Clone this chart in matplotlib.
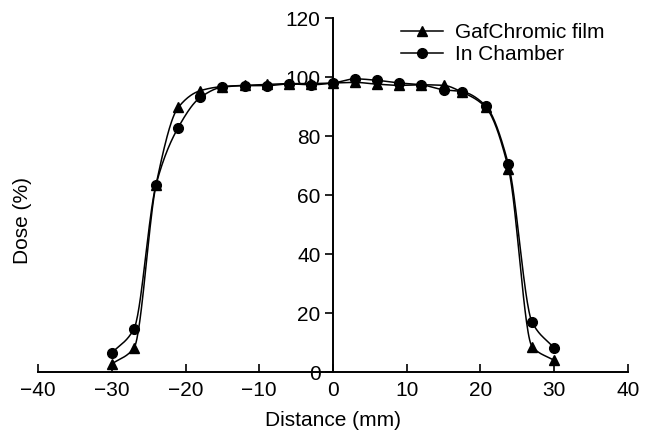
import numpy as np
import matplotlib
matplotlib.use("Agg")
import matplotlib.pyplot as plt
from matplotlib.lines import Line2D

plt.rcParams['font.family'] = ['Liberation Sans', 'DejaVu Sans']

# Data
distance = [-30, -27, -24, -21, -18, -15, -12, -9, -6, -3, 0, 3, 6, 9, 12, 15, 17.5, 20.7, 23.8, 27, 30]
film_dose = [2.8, 8.2, 63.6, 89.7, 95.4, 96.8, 97.2, 97.5, 97.8, 97.8, 98.0, 98.2, 97.6, 97.2, 97.4, 97.2, 94.9, 89.8, 69.0, 8.7, 4.0]
chamber_dose = [6.5, 14.7, 63.6, 82.9, 93.1, 96.6, 97.1, 97.1, 97.7, 97.4, 98.0, 99.4, 98.9, 98.0, 97.4, 95.7, 95.1, 90.3, 70.4, 17.0, 8.2]
series_labels = ["GafChromic film", "In Chamber"]
x_ticks = [-40, -30, -20, -10, 0, 10, 20, 30, 40]
y_ticks = [0, 20, 40, 60, 80, 100, 120]


def smooth(x, y, n=30):
    """Monotone cubic (Fritsch-Carlson) curve through the points - drawing style only."""
    x = np.asarray(x, float)
    y = np.asarray(y, float)
    h = np.diff(x)
    d = np.diff(y) / h
    m = np.zeros_like(y)
    m[0], m[-1] = d[0], d[-1]
    for i in range(1, len(x) - 1):
        if d[i - 1] * d[i] > 0:
            w1 = 2 * h[i] + h[i - 1]
            w2 = h[i] + 2 * h[i - 1]
            m[i] = (w1 + w2) / (w1 / d[i - 1] + w2 / d[i])
        else:
            m[i] = 0.0
    xs, ys = [], []
    for i in range(len(x) - 1):
        t = np.linspace(0, 1, n, endpoint=False)
        h00 = 2 * t**3 - 3 * t**2 + 1
        h10 = t**3 - 2 * t**2 + t
        h01 = -2 * t**3 + 3 * t**2
        h11 = t**3 - t**2
        xs.append(x[i] + t * h[i])
        ys.append(h00 * y[i] + h10 * h[i] * m[i] + h01 * y[i + 1] + h11 * h[i] * m[i + 1])
    xs.append([x[-1]])
    ys.append([y[-1]])
    return np.concatenate(xs), np.concatenate(ys)


fig = plt.figure(figsize=(6.46, 4.41), dpi=100)
ax = fig.add_axes([0.059, 0.156, 0.913, 0.803])

for yv, mk, ms in [(film_dose, '^', 7), (chamber_dose, 'o', 7)]:
    sx, sy = smooth(distance, yv)
    ax.plot(sx, sy, color='black', lw=1.1, zorder=2)
    ax.plot(distance, yv, linestyle='none', marker=mk, ms=ms, color='black', zorder=3)

ax.set_xlim(-40, 40)
ax.set_ylim(0, 120)
ax.spines['left'].set_position(('data', 0))
ax.spines['top'].set_visible(False)
ax.spines['right'].set_visible(False)
for s in ['left', 'bottom']:
    ax.spines[s].set_linewidth(1.4)
ax.set_xticks(x_ticks)
ax.set_yticks(y_ticks)
ax.set_xticklabels([("\u2212" + str(-v)) if v < 0 else str(v) for v in x_ticks])
ax.tick_params(axis='x', direction='in', length=6, width=1.2, labelsize=15, pad=6)
ax.tick_params(axis='y', direction='out', length=6, width=1.2, labelsize=15, pad=3)

ax.set_xlabel("Distance (mm)", fontsize=15, labelpad=8)
fig.text(0.035, 0.5, "Dose (%)", rotation=90, fontsize=15, va='center', ha='center')

handles = [Line2D([], [], color='black', lw=1.1, marker='^', ms=7),
           Line2D([], [], color='black', lw=1.1, marker='o', ms=7)]
ax.legend(handles, series_labels, loc='upper right', bbox_to_anchor=(0.975, 1.009),
          frameon=False, fontsize=15, handlelength=2.0, handletextpad=0.6,
          labelspacing=0.15, borderaxespad=0)

fig.savefig("out.png", dpi=100)
